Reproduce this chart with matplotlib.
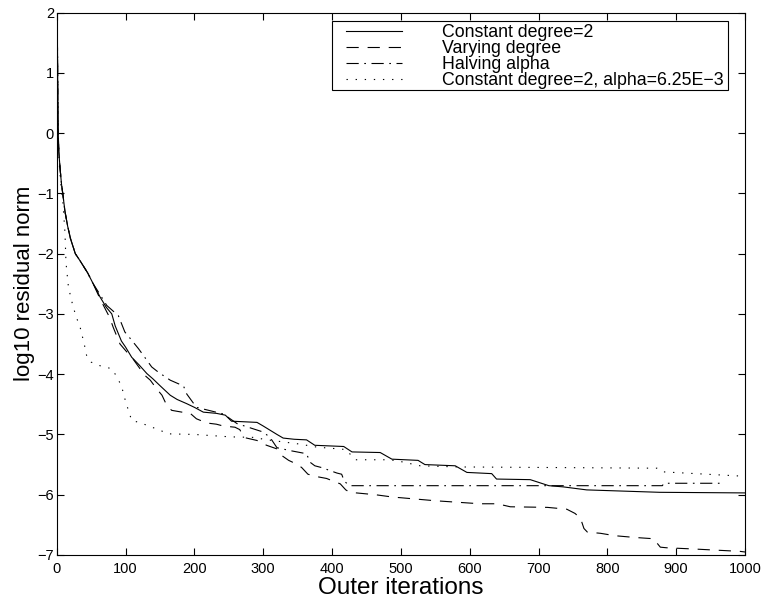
import matplotlib
matplotlib.use("Agg")
import matplotlib.pyplot as plt
from matplotlib.patches import Rectangle

plt.rcParams['font.family'] = ['Liberation Sans', 'DejaVu Sans']

# ---- data ----
const_x = [1, 2, 3, 5, 7, 9, 12, 16, 20, 27, 34, 45, 53, 63, 72, 80, 85, 94, 100,
           109, 120, 131, 140, 150, 165, 175, 189, 200, 213, 232, 245, 254, 291, 300,
           310, 320, 329, 345, 363, 375, 417, 429, 470, 487, 525, 535, 579, 596, 632,
           639, 688, 715, 736, 770, 823, 876, 1000]
const_y = [1.57, 0.1, -0.3, -0.6, -0.85, -1.02, -1.3, -1.55, -1.75, -2.0, -2.12,
           -2.32, -2.5, -2.72, -2.89, -3.0, -3.2, -3.45, -3.55, -3.72, -3.85, -3.99,
           -4.08, -4.19, -4.35, -4.42, -4.49, -4.55, -4.63, -4.65, -4.68, -4.78, -4.80,
           -4.86, -4.93, -5.0, -5.06, -5.08, -5.09, -5.18, -5.20, -5.29, -5.30, -5.41,
           -5.43, -5.50, -5.52, -5.63, -5.65, -5.74, -5.75, -5.85, -5.87, -5.92, -5.94,
           -5.96, -5.97]

vary_x = [1, 2, 3, 5, 7, 9, 12, 16, 20, 27, 34, 45, 53, 63, 72, 77, 82, 88, 92, 104,
          111, 128, 136, 145, 153, 160, 167, 182, 194, 203, 218, 232, 242, 259, 266,
          272, 291, 305, 320, 327, 337, 350, 356, 365, 378, 392, 412, 420, 426, 463,
          489, 500, 550, 615, 640, 659, 713, 741, 753, 761, 766, 771, 790, 811, 841,
          867, 877, 886, 925, 993, 1000]
vary_y = [1.57, 0.1, -0.3, -0.6, -0.85, -1.02, -1.3, -1.55, -1.75, -2.0, -2.12,
          -2.32, -2.5, -2.75, -2.95, -3.06, -3.22, -3.39, -3.50, -3.66, -3.75, -4.02,
          -4.10, -4.24, -4.35, -4.52, -4.60, -4.63, -4.65, -4.74, -4.81, -4.83, -4.86,
          -4.88, -4.92, -5.05, -5.10, -5.18, -5.24, -5.35, -5.43, -5.50, -5.55, -5.66,
          -5.70, -5.73, -5.82, -5.92, -5.96, -6.0, -6.04, -6.05, -6.1, -6.15, -6.15,
          -6.2, -6.21, -6.24, -6.31, -6.39, -6.56, -6.62, -6.64, -6.68, -6.71, -6.73,
          -6.87, -6.88, -6.9, -6.94, -6.95]

halv_x = [1, 2, 3, 5, 7, 9, 12, 16, 20, 27, 34, 45, 53, 63, 72.7, 89.6, 99, 107,
          119, 126, 138, 148, 165, 177, 184, 189, 203, 242, 262, 300, 310, 320, 340,
          363, 368, 375, 385, 407, 414, 418, 426, 880, 882, 968]
halv_y = [1.57, 0.1, -0.3, -0.6, -0.85, -1.02, -1.3, -1.55, -1.75, -2.0, -2.12,
          -2.32, -2.5, -2.68, -2.86, -3.03, -3.30, -3.41, -3.58, -3.69, -3.88, -3.97,
          -4.10, -4.16, -4.19, -4.33, -4.55, -4.66, -4.82, -4.96, -5.05, -5.22, -5.27,
          -5.32, -5.46, -5.52, -5.55, -5.64, -5.66, -5.78, -5.85, -5.85, -5.81, -5.81]

alpha_x = [1, 2, 4, 7, 9, 12, 13.5, 17, 20, 24, 30, 34, 40, 44, 50, 63, 80, 85, 94,
           100, 109, 120, 150, 162, 200, 252, 290, 300, 353, 378, 420, 434, 484, 500,
           528, 586, 600, 872, 880, 993, 1000]
alpha_y = [1.57, 0.05, -0.55, -1.0, -1.15, -1.65, -2.15, -2.55, -2.7, -2.89, -3.1,
           -3.22, -3.5, -3.72, -3.8, -3.86, -3.91, -4.0, -4.19, -4.45, -4.77, -4.8,
           -4.93, -4.99, -5.0, -5.04, -5.05, -5.08, -5.16, -5.21, -5.25, -5.42, -5.42,
           -5.45, -5.52, -5.54, -5.54, -5.56, -5.62, -5.69, -5.70]

labels = ["Constant degree=2", "Varying degree", "Halving alpha",
          "Constant degree=2, alpha=6.25E\u22123"]
x_ticks = [0, 100, 200, 300, 400, 500, 600, 700, 800, 900, 1000]
y_ticks = [-7, -6, -5, -4, -3, -2, -1, 0, 1, 2]

W, H = 762, 605
fig = plt.figure(figsize=(W / 100, H / 100), dpi=100)
ax_l, ax_r, ax_t, ax_b = 56.7, 745.0, 12.5, 555.0
ax = fig.add_axes([ax_l / W, 1 - ax_b / H, (ax_r - ax_l) / W, (ax_b - ax_t) / H])

def px2ax(px, py):
    return (px - ax_l) / (ax_r - ax_l), (ax_b - py) / (ax_b - ax_t)

lw = 0.8
ax.plot(const_x, const_y, color='black', lw=lw, linestyle='-', label=labels[0])
ax.plot(vary_x, vary_y, color='black', lw=lw, linestyle=(0, (11, 8)), label=labels[1])
ax.plot(halv_x, halv_y, color='black', lw=lw, linestyle=(0, (11, 5, 1.5, 5)), label=labels[2])
ax.plot(alpha_x, alpha_y, color='black', lw=lw, linestyle=(0, (1.2, 7)), label=labels[3])

ax.set_xlim(0, 1000)
ax.set_ylim(-7, 2)
ax.set_xticks(x_ticks)
ax.set_yticks(y_ticks)
ax.tick_params(direction='in', length=5, width=0.8, top=True, right=True,
               labelsize=10.5, colors='black')
ax.tick_params(axis='x', pad=5)
ax.tick_params(axis='y', pad=2)
for s in ax.spines.values():
    s.set_linewidth(0.8)

ax.set_xlabel("Outer iterations", fontsize=17.5, labelpad=1)
ax.set_ylabel("log10 residual norm", fontsize=16, labelpad=2)

# legend frame (drawn manually so that padding matches the reference)
fx0, fy0 = px2ax(332, 90)
fx1, fy1 = px2ax(728, 21)
frame = Rectangle((fx0, fy0), fx1 - fx0, fy1 - fy0, transform=ax.transAxes,
                  facecolor='white', edgecolor='black', lw=0.8, zorder=4.9)
ax.add_patch(frame)

lx, ly = px2ax(346, 24)
leg = ax.legend(loc='upper left', bbox_to_anchor=(lx, ly), borderaxespad=0,
                fontsize=12.75, handlelength=3.15, handletextpad=2.25, labelspacing=-0.05,
                borderpad=0, frameon=False)

fig.savefig("out.png", dpi=100)
